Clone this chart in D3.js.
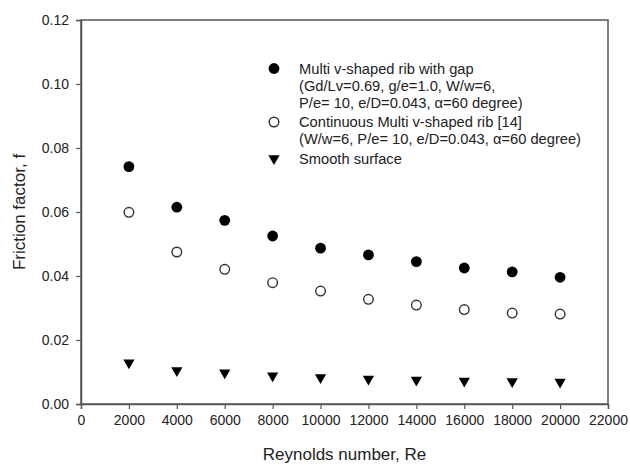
<!DOCTYPE html>
<html>
<head>
<meta charset="utf-8">
<script src="https://cdn.jsdelivr.net/npm/d3@7"></script>
<style>
  body { margin: 0; background: #fff; }
  text { font-family: "Liberation Sans", Arial, sans-serif; fill: #222; }
</style>
</head>
<body>
<svg id="chart" width="630" height="465"></svg>
<script>
// data
const reynolds = [2000, 4000, 6000, 8000, 10000, 12000, 14000, 16000, 18000, 20000];
const ribWithGap = [0.0742, 0.0615, 0.0574, 0.0525, 0.0487, 0.0466, 0.0445, 0.0425, 0.0413, 0.0396];
const continuousRib = [0.0599, 0.0475, 0.0421, 0.0379, 0.0353, 0.0327, 0.0309, 0.0295, 0.0284, 0.0281];
const smoothSurface = [0.0129, 0.0105, 0.0098, 0.0088, 0.0083, 0.0078, 0.0075, 0.0072, 0.0070, 0.0069];
const xTicks = [0, 2000, 4000, 6000, 8000, 10000, 12000, 14000, 16000, 18000, 20000, 22000];
const yTicks = [0, 0.02, 0.04, 0.06, 0.08, 0.10, 0.12];
const legendEntries = [
    {kind: "filled", lines: ["Multi v-shaped rib with gap", "(Gd/Lv=0.69, g/e=1.0, W/w=6,", "P/e= 10, e/D=0.043, \u03b1=60 degree)"]},
    {kind: "open", lines: ["Continuous Multi v-shaped rib [14]", "(W/w=6, P/e= 10, e/D=0.043, \u03b1=60 degree)"]},
    {kind: "tri", lines: ["Smooth surface"]}
];

const svg = d3.select("#chart");
const margin = {left: 81, top: 20, right: 22, bottom: 61};
const width = 630 - margin.left - margin.right;
const height = 465 - margin.top - margin.bottom;
const axisColor = "#555";

const x = d3.scaleLinear().domain([0, 22000]).range([0, width]);
const y = d3.scaleLinear().domain([0, 0.12]).range([height, 0]);

const g = svg.append("g").attr("transform", `translate(${margin.left},${margin.top})`);

// frame
g.append("rect")
    .attr("width", width)
    .attr("height", height)
    .attr("fill", "none")
    .attr("stroke", axisColor)
    .attr("stroke-width", 1.5);

const xAxis = g.append("g")
    .attr("transform", `translate(0,${height})`)
    .call(d3.axisBottom(x).tickValues(xTicks).tickFormat(d3.format("d")).tickSize(5).tickPadding(6));

const yAxis = g.append("g")
    .call(d3.axisLeft(y).tickValues(yTicks).tickFormat(d3.format(".2f")).tickSize(5).tickPadding(7));

[xAxis, yAxis].forEach(ax => {
    ax.select(".domain").attr("stroke", axisColor).attr("stroke-width", 1.5);
    ax.selectAll(".tick line").attr("stroke", axisColor).attr("stroke-width", 1.2);
    ax.selectAll(".tick text")
        .attr("font-family", "Liberation Sans, Arial, sans-serif")
        .attr("font-size", 14)
        .attr("fill", "#222");
});

// axis titles
svg.append("text")
    .attr("x", margin.left + width / 2)
    .attr("y", 460)
    .attr("text-anchor", "middle")
    .attr("font-size", 17)
    .text("Reynolds number, Re");

svg.append("text")
    .attr("transform", `translate(25,${margin.top + height / 2}) rotate(-90)`)
    .attr("text-anchor", "middle")
    .attr("font-size", 17)
    .text("Friction factor, f");

const tri = d3.symbol().type(d3.symbolTriangle).size(55);

function drawMarker(sel, kind) {
    if (kind === "filled") {
        sel.append("circle").attr("r", 5.4).attr("fill", "#000");
    } else if (kind === "open") {
        sel.append("circle").attr("r", 4.8).attr("fill", "#fff")
            .attr("stroke", "#333").attr("stroke-width", 1.4);
    } else {
        sel.append("path").attr("d", tri).attr("transform", "rotate(180)").attr("fill", "#000");
    }
}

const seriesList = [
    {kind: "filled", values: ribWithGap},
    {kind: "open", values: continuousRib},
    {kind: "tri", values: smoothSurface}
];

seriesList.forEach(s => {
    g.append("g")
        .selectAll("g")
        .data(reynolds.map((r, i) => ({re: r, f: s.values[i]})))
        .enter().append("g")
        .attr("transform", d => `translate(${x(d.re)},${y(d.f)})`)
        .each(function() { drawMarker(d3.select(this), s.kind); });
});

// legend
const legend = svg.append("g");
const lineGap = 17;
let ly = 68.5;
legendEntries.forEach(entry => {
    const row = legend.append("g").attr("transform", `translate(274,${ly})`);
    drawMarker(row, entry.kind);
    entry.lines.forEach((t, j) => {
        row.append("text")
            .attr("x", 25)
            .attr("y", j * lineGap)
            .attr("dy", "0.35em")
            .attr("font-size", 14.7)
            .text(t);
    });
    ly += entry.lines.length * lineGap + 2.5;
});
</script>
</body>
</html>
